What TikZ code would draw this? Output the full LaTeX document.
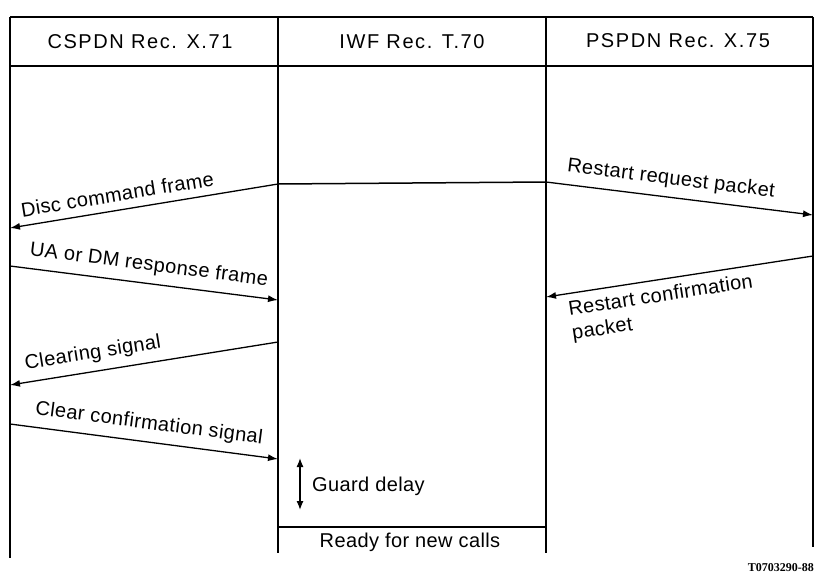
\documentclass[tikz,border=0pt]{standalone}
\usepackage{fontspec}
\setmainfont[LetterSpace=2]{Liberation Sans}
\newfontfamily\tagfont{Liberation Serif}
\usetikzlibrary{arrows.meta}

\begin{document}
\begin{tikzpicture}[x=1pt,y=-1pt]
\tikzstyle{every node}=[font=\fontsize{20}{24}\selectfont, inner sep=2pt];
\tikzstyle{head}=[font=\fontsize{20}{24}\selectfont\addfontfeature{LetterSpace=8}];
\tikzstyle{life}=[line width=1.5pt];
\tikzstyle{msg}=[line width=1.3pt, -{Latex[length=10pt,width=7pt]}];
\tikzstyle{lblup}=[sloped, above=6pt];
\tikzstyle{lbldown}=[sloped, below=5pt, align=left];
\useasboundingbox (0,0) rectangle (821,578);
% lifelines and header box
\coordinate (cs0) at (10,17);  \coordinate (cs1) at (10,558);
\coordinate (iw0) at (278,17); \coordinate (iw1) at (278,553);
\coordinate (ip0) at (546,17); \coordinate (ip1) at (546,553);
\coordinate (ps0) at (813,17); \coordinate (ps1) at (813,547);
\coordinate (hl) at (10,66);   \coordinate (hr) at (813,66);
\draw[life] (cs0) -- (cs1) (iw0) -- (iw1) (ip0) -- (ip1) (ps0) -- (ps1);
\draw[life] (cs0) -- (ps0) (hl) -- (hr);
\node [head] (cspdn) at (140,42) {CSPDN Rec. X.71};
\node [head] (iwf) at (412,42) {IWF Rec. T.70};
\node [head] (pspdn) at (678,41) {PSPDN Rec. X.75};
% disconnection
\coordinate (d0) at (278,184); \coordinate (d1) at (10,228);
\coordinate (r0) at (546,182); \coordinate (r1) at (813,215);
\draw[life] (d0) -- (r0);
\draw[msg] (d0) -- node[lblup, pos=0.59] (disc) {Disc command frame} (d1);
\draw[msg] (r0) -- node[lblup, pos=0.46] (rreq) {Restart request packet} (r1);
\coordinate (u0) at (10,266); \coordinate (u1) at (278,300);
\draw[msg] (u0) -- node[lblup, pos=0.51] (ua) {UA or DM response frame} (u1);
\coordinate (c0) at (813,256); \coordinate (c1) at (546,297);
\draw[msg] (c0) -- node[lbldown, pos=0.58] (rconf) {Restart confirmation\\packet} (c1);
% clearing
\coordinate (k0) at (278,342); \coordinate (k1) at (10,385);
\draw[msg] (k0) -- node[lblup, pos=0.68] (clr) {Clearing signal} (k1);
\coordinate (f0) at (10,424); \coordinate (f1) at (278,459);
\draw[msg] (f0) -- node[lblup, pos=0.51] (cconf) {Clear confirmation signal} (f1);
% guard delay
\coordinate (g0) at (300,458); \coordinate (g1) at (300,510);
\draw[line width=1.3pt, {Latex[length=9pt,width=7pt]}-{Latex[length=9pt,width=7pt]}] (g0) -- (g1);
\node [anchor=west] (guard) at (310,486) {Guard delay};
\coordinate (e0) at (278,527); \coordinate (e1) at (546,527);
\draw[life] (e0) -- (e1);
\node (ready) at (410,542) {Ready for new calls};
\node [anchor=east, font=\tagfont\bfseries\fontsize{12}{14}\selectfont] (tag) at (816,568) {T0703290-88};
\end{tikzpicture}
\end{document}
